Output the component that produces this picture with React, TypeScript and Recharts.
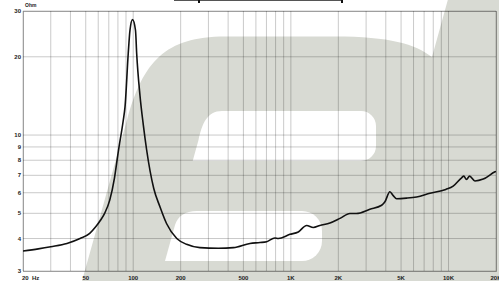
import React from 'react';
import { LineChart, Line, XAxis, YAxis, CartesianGrid } from 'recharts';

const freqs = [20, 25, 30, 38, 46, 53, 58, 62, 66, 71, 76, 80.4, 86.5, 88.7, 93, 95.4, 99, 103.4, 105.2, 110.4, 116, 121.7, 135, 148, 163, 189, 218, 265, 347, 432, 550, 637, 702, 792, 832, 986, 1114, 1259, 1387, 1528, 1770, 2049, 2370, 2603, 3170, 3764, 3950, 4247, 4458, 4685, 5420, 6275, 7620, 9600, 10700, 12100, 12500, 13000, 13600, 14700, 16600, 19700, 20000];
const impedance = [3.58, 3.65, 3.72, 3.83, 4.0, 4.19, 4.45, 4.7, 5.01, 5.62, 6.82, 8.62, 11.4, 12.8, 20.6, 25.3, 27.8, 25.3, 20.6, 14.2, 10.9, 8.76, 6.23, 5.29, 4.56, 4.0, 3.8, 3.69, 3.67, 3.69, 3.83, 3.86, 3.89, 4.02, 4.0, 4.15, 4.24, 4.49, 4.41, 4.49, 4.59, 4.78, 4.99, 4.99, 5.18, 5.37, 5.54, 6.05, 5.85, 5.69, 5.72, 5.78, 5.97, 6.18, 6.36, 6.85, 6.95, 6.75, 6.95, 6.66, 6.77, 7.22, 7.25];

const xGridTicks = [20, 30, 40, 50, 60, 70, 80, 90, 100, 200, 300, 400, 500, 600, 700, 800, 900, 1000, 2000, 3000, 4000, 5000, 6000, 7000, 8000, 9000, 10000, 20000];
const xLabelTicks = [20, 50, 100, 200, 500, 1000, 2000, 5000, 10000, 20000];
const xLabels = ['20', '50', '100', '200', '500', '1K', '2K', '5K', '10K', '20K'];
const yTicks = [3, 4, 5, 6, 7, 8, 9, 10, 20, 30];
const yLabels = ['3', '4', '5', '6', '7', '8', '9', '10', '20', '30'];

const data = freqs.map((f, i) => ({ f, z: impedance[i] }));

const FONT = '"Liberation Sans", Arial, sans-serif';
const GRAY = '#d8dad3';

const XTick = (props: any) => {
  const { x, payload } = props;
  const idx = xLabelTicks.indexOf(payload.value);
  if (idx < 0) return <g />;
  const ty = 279.5;
  if (payload.value === 20) {
    return (
      <g>
        <text x={x - 1} y={ty} textAnchor="start" fontSize={6} fontWeight="bold" fill="#222" fontFamily={FONT}>{xLabels[idx]}</text>
        <text x={x + 9} y={ty} textAnchor="start" fontSize={6} fontWeight="bold" fill="#222" fontFamily={FONT}>Hz</text>
      </g>
    );
  }
  return (
    <text x={x} y={ty} textAnchor="middle" fontSize={6} fontWeight="bold" fill="#222" fontFamily={FONT}>{xLabels[idx]}</text>
  );
};

const YTick = (props: any) => {
  const { y, payload } = props;
  const idx = yTicks.indexOf(payload.value);
  if (idx < 0) return <g />;
  return (
    <text x={21} y={y + 2} textAnchor="end" fontSize={6} fontWeight="bold" fill="#222" fontFamily={FONT}>{yLabels[idx]}</text>
  );
};

export default function App() {
  return (
    <div style={{ position: 'absolute', left: 0, top: 0, width: 499, height: 281, background: '#fff', overflow: 'hidden' }}>
      <svg width={499} height={281} style={{ position: 'absolute', left: 0, top: 0 }}>
        <path d="M82,281 L127,120 C143,62 165,36.5 225,36.5 L335,36.5 C390,36.5 415,44 432,57 L447.8,0 L499,0 L499,281 Z" fill={GRAY} />
        <path d="M192.7,161 L198.5,140 C202,124 207,111 222,111 L361,111 A15,15 0 0 1 376,126 L376,146 A15,15 0 0 1 361,161 Z" fill="#fff" />
        <path d="M165,261 L175,225 C178,216 185,211 197,211 L302,211 A20,20 0 0 1 322,231 L322,241 A20,20 0 0 1 302,261 Z" fill="#fff" />
        <rect x={174} y={0} width={169} height={1} fill="#555" />
        <rect x={198} y={0} width={2} height={3} fill="#111" />
        <rect x={341} y={0} width={2} height={3} fill="#111" />
        <rect x={23.5} y={11.5} width={473} height={260} fill="none" stroke="rgba(0,0,0,0.3)" />
        <text x={25} y={7} fontSize={5} fontWeight="bold" fill="#222" fontFamily={FONT}>Ohm</text>
      </svg>
      <div style={{ position: 'absolute', left: 0, top: 0 }}>
        <LineChart width={499} height={281} data={data} margin={{ top: 11, right: 3, bottom: 0, left: 0 }}>
          <CartesianGrid stroke="rgba(0,0,0,0.21)" strokeWidth={1} />
          <XAxis dataKey="f" type="number" scale="log" domain={[20, 20000]} ticks={xGridTicks} interval={0} height={10} axisLine={false} tickLine={false} tick={<XTick />} allowDataOverflow />
          <YAxis type="number" scale="log" domain={[3, 30]} ticks={yTicks} interval={0} width={23} axisLine={false} tickLine={false} tick={<YTick />} allowDataOverflow />
          <Line dataKey="z" type="monotone" stroke="#111" strokeWidth={1.6} dot={false} isAnimationActive={false} />
        </LineChart>
      </div>
    </div>
  );
}
